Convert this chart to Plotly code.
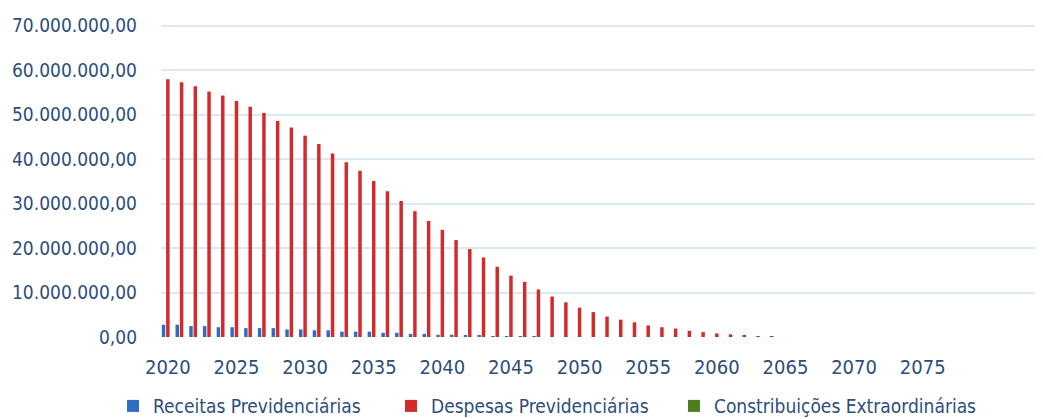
import plotly.graph_objects as go

years = list(range(2020, 2080))

receitas = [2.75, 2.75, 2.45, 2.45, 2.2, 2.2, 2.0, 2.0, 2.0, 1.7,
            1.7, 1.5, 1.5, 1.2, 1.2, 1.2, 0.95, 0.95, 0.7, 0.7,
            0.5, 0.5, 0.35, 0.35, 0.2, 0.15, 0.12, 0.08, 0, 0,
            0, 0, 0, 0, 0, 0, 0, 0, 0, 0,
            0, 0, 0, 0, 0, 0, 0, 0, 0, 0,
            0, 0, 0, 0, 0, 0, 0, 0, 0, 0]
despesas = [58.0, 57.3, 56.4, 55.2, 54.3, 53.1, 51.8, 50.4, 48.6, 47.1,
            45.3, 43.4, 41.3, 39.3, 37.4, 35.1, 32.8, 30.6, 28.3, 26.1,
            24.1, 21.8, 19.8, 17.9, 15.8, 13.8, 12.4, 10.7, 9.1, 7.8,
            6.6, 5.6, 4.6, 3.9, 3.3, 2.6, 2.2, 1.9, 1.4, 1.1,
            0.8, 0.6, 0.4, 0.2, 0.12, 0, 0, 0, 0, 0,
            0, 0, 0, 0, 0, 0, 0, 0, 0, 0]
extraordinarias = [0] * 60

series_names = ["Receitas Previdenciárias", "Despesas Previdenciárias",
                "Constribuições Extraordinárias"]
tick_years = [2020, 2025, 2030, 2035, 2040, 2045, 2050, 2055, 2060, 2065, 2070, 2075]

scale = 1_000_000
text_color = "#2D4E7A"
font_family = "Liberation Sans Narrow, DejaVu Sans Condensed, Arial Narrow, sans-serif"

fig = go.Figure()
fig.add_trace(go.Bar(x=years, y=[v * scale for v in receitas], name=series_names[0],
                     legend="legend",
                     marker=dict(color="#2F6DC4", line=dict(width=0))))
fig.add_trace(go.Bar(x=years, y=[v * scale for v in despesas], name=series_names[1],
                     legend="legend2",
                     marker=dict(color="#D32B2B", line=dict(width=0))))
fig.add_trace(go.Bar(x=years, y=[v * scale for v in extraordinarias], name=series_names[2],
                     legend="legend3",
                     marker=dict(color="#4E7F1E", line=dict(width=0))))


def legend_at(xpos):
    return dict(orientation="h", x=xpos, xanchor="left", y=0.050, yanchor="middle",
                xref="container", yref="container", bgcolor="rgba(0,0,0,0)",
                font=dict(size=19, color=text_color), itemwidth=30)


fig.update_layout(
    width=1043, height=419,
    margin=dict(l=153, r=0, t=16, b=90, autoexpand=False),
    paper_bgcolor="white", plot_bgcolor="white",
    barmode="group", bargap=0.05, bargroupgap=0.2,
    separators=",.",
    font=dict(family=font_family, color=text_color, size=19),
    showlegend=True,
    legend=legend_at(0.1007),
    legend2=legend_at(0.3672),
    legend3=legend_at(0.6385),
    xaxis=dict(range=[2019.5, 2084.35], tickmode="array", tickvals=tick_years,
               ticktext=[str(y) for y in tick_years], showgrid=False,
               showline=False, zeroline=False, ticks="", ticklabelstandoff=16,
               tickfont=dict(size=20, color=text_color)),
    yaxis=dict(range=[0, 70.4 * scale], tickmode="linear", tick0=0, dtick=10 * scale,
               tickformat=",.2f", showgrid=True, gridcolor="#DCE8F5", gridwidth=2,
               zeroline=False, showline=False, ticks="", ticklabelstandoff=23,
               tickfont=dict(size=19, color=text_color)),
)

fig.write_html("out.html")
